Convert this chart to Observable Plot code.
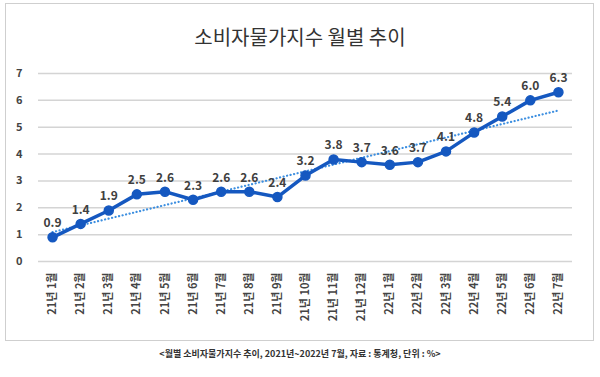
<!DOCTYPE html>
<html><head><meta charset="utf-8">
<script src="https://cdn.jsdelivr.net/npm/d3@7"></script>
<script src="https://cdn.jsdelivr.net/npm/@observablehq/plot@0.6"></script>
<style>
body{margin:0;background:#fff;font-family:"Noto Sans CJK KR","Noto Sans",sans-serif;}
#frame{position:absolute;left:5px;top:3px;width:587px;height:336px;border:1px solid #cfcfcf;}
#title{position:absolute;left:0;top:22px;width:600px;text-align:center;font-size:20px;color:#333;}
#chart{position:absolute;left:0;top:60px;}
#caption{position:absolute;left:0;top:347px;width:600px;text-align:center;font-size:9px;font-weight:bold;color:#333;}
</style></head><body>
<div id="frame"></div>
<div id="title">소비자물가지수 월별 추이</div>
<div id="chart"></div>
<div id="caption">&lt;월별 소비자물가지수 추이, 2021년~2022년 7월, 자료 : 통계청, 단위 : %&gt;</div>
<script>
const months = ["21년 1월","21년 2월","21년 3월","21년 4월","21년 5월","21년 6월","21년 7월","21년 8월","21년 9월","21년 10월","21년 11월","21년 12월","22년 1월","22년 2월","22년 3월","22년 4월","22년 5월","22년 6월","22년 7월"];
const values = [0.9,1.4,1.9,2.5,2.6,2.3,2.6,2.6,2.4,3.2,3.8,3.7,3.6,3.7,4.1,4.8,5.4,6.0,6.3];
const yTicks = [0,1,2,3,4,5,6,7];
const data = months.map((m,i)=>({i, m, v: values[i]}));
const fontFamily = '"Noto Sans CJK KR","Noto Sans",sans-serif';
const chart = Plot.plot({
  width: 600, height: 280,
  marginLeft: 38, marginRight: 28, marginTop: 13, marginBottom: 79,
  style: {fontFamily, background: "transparent"},
  x: {type: "linear", domain: [-0.5, months.length - 0.5], label: null},
  y: {domain: [0, 7], label: null},
  marks: [
    Plot.gridY(yTicks, {stroke: "#d4d4d4", strokeOpacity: 1, strokeWidth: 1.5}),
    Plot.axisY(yTicks, {tickSize: 0, tickPadding: 16, fontSize: 11, fontWeight: "bold", fill: "#444", tickFormat: d => d, label: null}),
    Plot.axisX(d3.range(months.length), {tickSize: 0, tickPadding: 11, tickRotate: -90, fontSize: 11, fontWeight: "bold", fill: "#444", tickFormat: d => months[d], label: null}),
    Plot.linearRegressionY(data, {x: "i", y: "v", stroke: "#3d8fe0", strokeWidth: 2.2, strokeDasharray: "0.1,3.5", strokeLinecap: "round", ci: 0}),
    Plot.line(data, {x: "i", y: "v", stroke: "#1558c0", strokeWidth: 3.5}),
    Plot.dot(data, {x: "i", y: "v", r: 4.5, fill: "#1558c0", stroke: "#1558c0"}),
    Plot.text(data, {x: "i", y: "v", text: d => d.v.toFixed(1), dy: -14, fontSize: 12, fontWeight: "bold", fill: "#404040"})
  ]
});
document.getElementById("chart").appendChild(chart);
</script>
</body></html>
